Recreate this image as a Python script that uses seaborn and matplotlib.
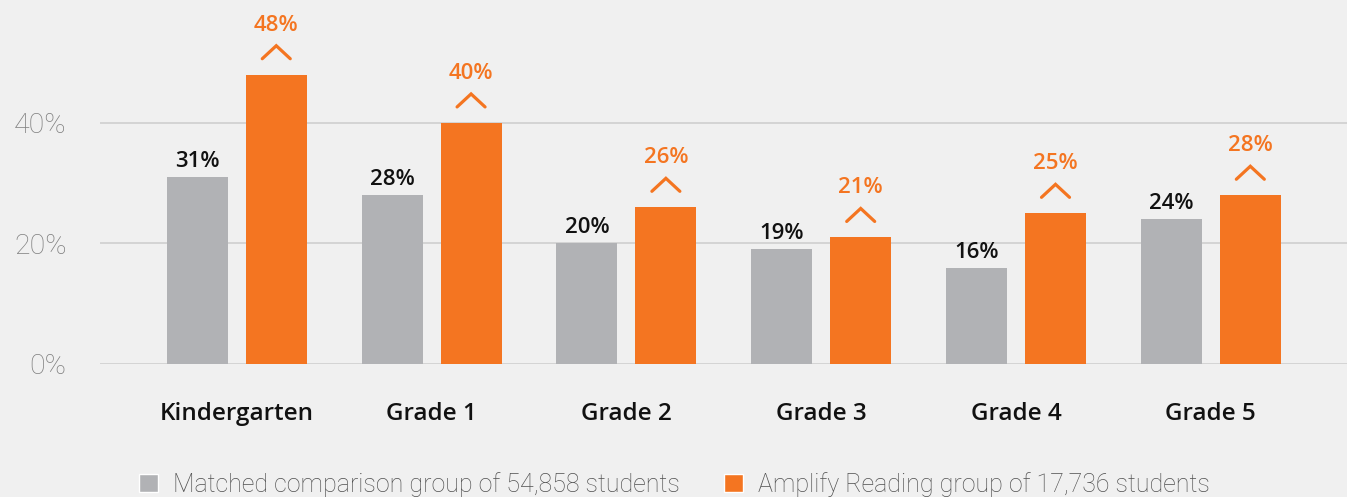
import pandas as pd
import matplotlib.pyplot as plt
import seaborn as sns
from matplotlib.patches import Patch

# Data
grades = ["Kindergarten", "Grade 1", "Grade 2", "Grade 3", "Grade 4", "Grade 5"]
comparison = [31, 28, 20, 19, 16, 24]
amplify = [48, 40, 26, 21, 25, 28]
groups = ["Matched comparison group of 54,858 students",
          "Amplify Reading group of 17,736 students"]

gray = "#b1b2b5"
orange = "#f47521"
bg = "#f0f0f0"

df = pd.DataFrame({
    "grade": grades * 2,
    "value": comparison + amplify,
    "group": [groups[0]] * len(grades) + [groups[1]] * len(grades),
})

sns.set_style("white")
plt.rcParams["font.family"] = ["Open Sans", "DejaVu Sans"]

fig = plt.figure(figsize=(13.47, 4.97), dpi=100, facecolor=bg)
ax = fig.add_axes([100 / 1347, 133 / 497, 1247 / 1347, 364 / 497])
ax.set_facecolor(bg)

sns.barplot(data=df, x="grade", y="value", hue="group", palette=[gray, orange],
            width=0.811, gap=0.228, legend=False, ax=ax, saturation=1, linewidth=0)

xmin, xmax = -0.702, 5.699
ax.set_xlim(xmin, xmax)
ax.set_ylim(0, 60.4)
ax.set_yticks([0, 20, 40])
ax.set_yticklabels(["0%", "20%", "40%"])
ax.grid(axis="y", color="#d4d4d4", linewidth=1.4)
ax.set_axisbelow(True)
for s in ax.spines.values():
    s.set_visible(False)
ax.tick_params(axis="y", length=0, pad=24, labelcolor="#7f7f7f")
ax.tick_params(axis="x", length=0, pad=27)
for t in ax.get_yticklabels():
    t.set_family(["Roboto", "DejaVu Sans"])
    t.set_fontweight("light")
    t.set_fontsize(20.5)
for t in ax.get_xticklabels():
    t.set_fontweight("semibold")
    t.set_fontsize(17.5)
    t.set_color("#111111")
ax.set_xlabel("")
ax.set_ylabel("")

# pixel -> data scale
px_y = 60.4 / 364
px_x = (xmax - xmin) / 1247

n = len(grades)
bars = ax.patches[:2 * n]
for i, b in enumerate(bars):
    cx = b.get_x() + b.get_width() / 2
    top = b.get_height()
    if i < n:
        ax.annotate(f"{top:.0f}%", (cx, top), xytext=(0, 10), textcoords="offset pixels",
                    ha="center", va="baseline", fontsize=16, fontweight="semibold",
                    color="#111111")
    else:
        ax.annotate(f"{top:.0f}%", (cx, top), xytext=(0, 44), textcoords="offset pixels",
                    ha="center", va="baseline", fontsize=16, fontweight="semibold",
                    color=orange)
        ax.plot([cx - 14 * px_x, cx, cx + 14 * px_x],
                [top + 16 * px_y, top + 29 * px_y, top + 16 * px_y],
                color=orange, linewidth=2.3, solid_capstyle="round",
                solid_joinstyle="miter", clip_on=False)

handles = [Patch(facecolor=gray, label=groups[0]), Patch(facecolor=orange, label=groups[1])]
leg = fig.legend(handles=handles, loc="center", bbox_to_anchor=(0.5007, 0.026), ncol=2,
                 frameon=False, prop={"family": ["Roboto", "DejaVu Sans"], "weight": "light",
                                      "size": 18},
                 handlelength=0.75, handleheight=0.75, handletextpad=0.6,
                 columnspacing=1.75, borderpad=0)
for t in leg.get_texts():
    t.set_color("#505050")

fig.savefig("out.png", dpi=100, facecolor=bg)
